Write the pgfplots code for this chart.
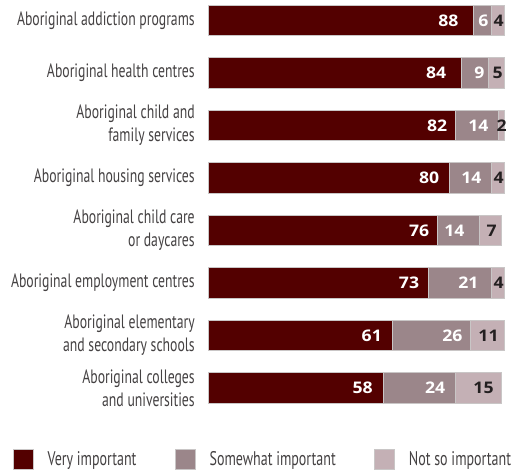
\documentclass[border=0pt]{standalone}
\usepackage{fontspec}
\usepackage{pgfplots}
\pgfplotsset{compat=1.18}
\usepackage{pgfplotstable}
\setmainfont{PT Sans}
\newfontfamily\labelfont{PT Sans}[FakeStretch=0.71]
\newfontfamily\numfont{Open Sans}[FakeStretch=1.1]
\definecolor{cdark}{HTML}{530000}
\definecolor{cmed}{HTML}{9B868A}
\definecolor{clight}{HTML}{C4B0B5}
\definecolor{cedge}{HTML}{C9C6C6}
\definecolor{ctext}{HTML}{231F20}

\pgfplotstableread{
y v pad
0 88 11.25
1 84 11.25
2 82 6
3 80 7.5
4 76 6
5 73 6.75
6 61 7.5
7 58 7.5
}\very
\pgfplotstableread{
y v pad
0 6 2.25
1 9 3
2 14 6.75
3 14 7.5
4 14 11.25
5 21 9.75
6 26 6
7 24 7.5
}\somewhat
\pgfplotstableread{
y v pad
0 4 0
1 5 0.75
2 2 -2.25
3 4 0
4 7 3
5 4 0
6 11 3.75
7 15 5.25
}\notso

\begin{document}
\begin{tikzpicture}
\useasboundingbox (0,0) rectangle (387pt,-353.25pt);
\begin{axis}[
  at={(156pt,-1.6pt)}, anchor=north west,
  scale only axis, width=226.5pt, height=303.2pt,
  xbar stacked, bar width=22.9pt,
  xmin=0, xmax=100, ymin=-0.35, ymax=7.35,
  y dir=reverse,
  axis line style={draw=none},
  xtick=\empty,
  ytick={0,...,7},
  yticklabels={{Aboriginal addiction programs},{Aboriginal health centres},{Aboriginal child and\\family services},{Aboriginal housing services},{Aboriginal child care\\or daycares},{Aboriginal employment centres},{Aboriginal elementary\\and secondary schools},{Aboriginal colleges\\and universities}},
  yticklabel style={align=right, inner sep=0pt, xshift=-9.75pt, font=\labelfont\fontsize{14.5}{17.2}\selectfont, text=ctext!85},
  major tick length=0pt,
  tick style={draw=none},
  point meta=explicit,
  visualization depends on={\thisrow{pad} \as \pad},
  visualization depends on={\thisrow{v} \as \val},
  nodes near coords={\pgfmathprintnumber[assume math mode=true]{\pgfplotspointmeta}},
  every node near coord/.append style={anchor=east, inner sep=0pt, xshift={1.1325pt*\val-1pt*\pad}, font=\numfont\bfseries\fontsize{12}{14}\selectfont},
  legend columns=3,
  legend style={draw=none, fill=none, at={(-0.646,-0.105)}, anchor=north west, inner sep=0pt, font=\labelfont\fontsize{14.8}{18}\selectfont, text=ctext!85,
    /tikz/every even column/.append style={column sep=27pt},
    /tikz/every odd column/.append style={column sep=8.25pt}},
  legend image code/.code={\draw[#1, line width=0.6pt] (0pt,-7.5pt) rectangle (15pt,7.5pt);},
]
\addplot[fill=cdark, draw=cedge, line width=0.6pt, nodes near coords style={text=white}] table[x=v, y=y, meta=v] {\very};
\addplot[fill=cmed, draw=cedge, line width=0.6pt, nodes near coords style={text=white}] table[x=v, y=y, meta=v] {\somewhat};
\addplot[fill=clight, draw=cedge, line width=0.6pt, nodes near coords style={text=ctext}] table[x=v, y=y, meta=v] {\notso};
\legend{Very important, Somewhat important, Not so important}
\end{axis}
\end{tikzpicture}
\end{document}
